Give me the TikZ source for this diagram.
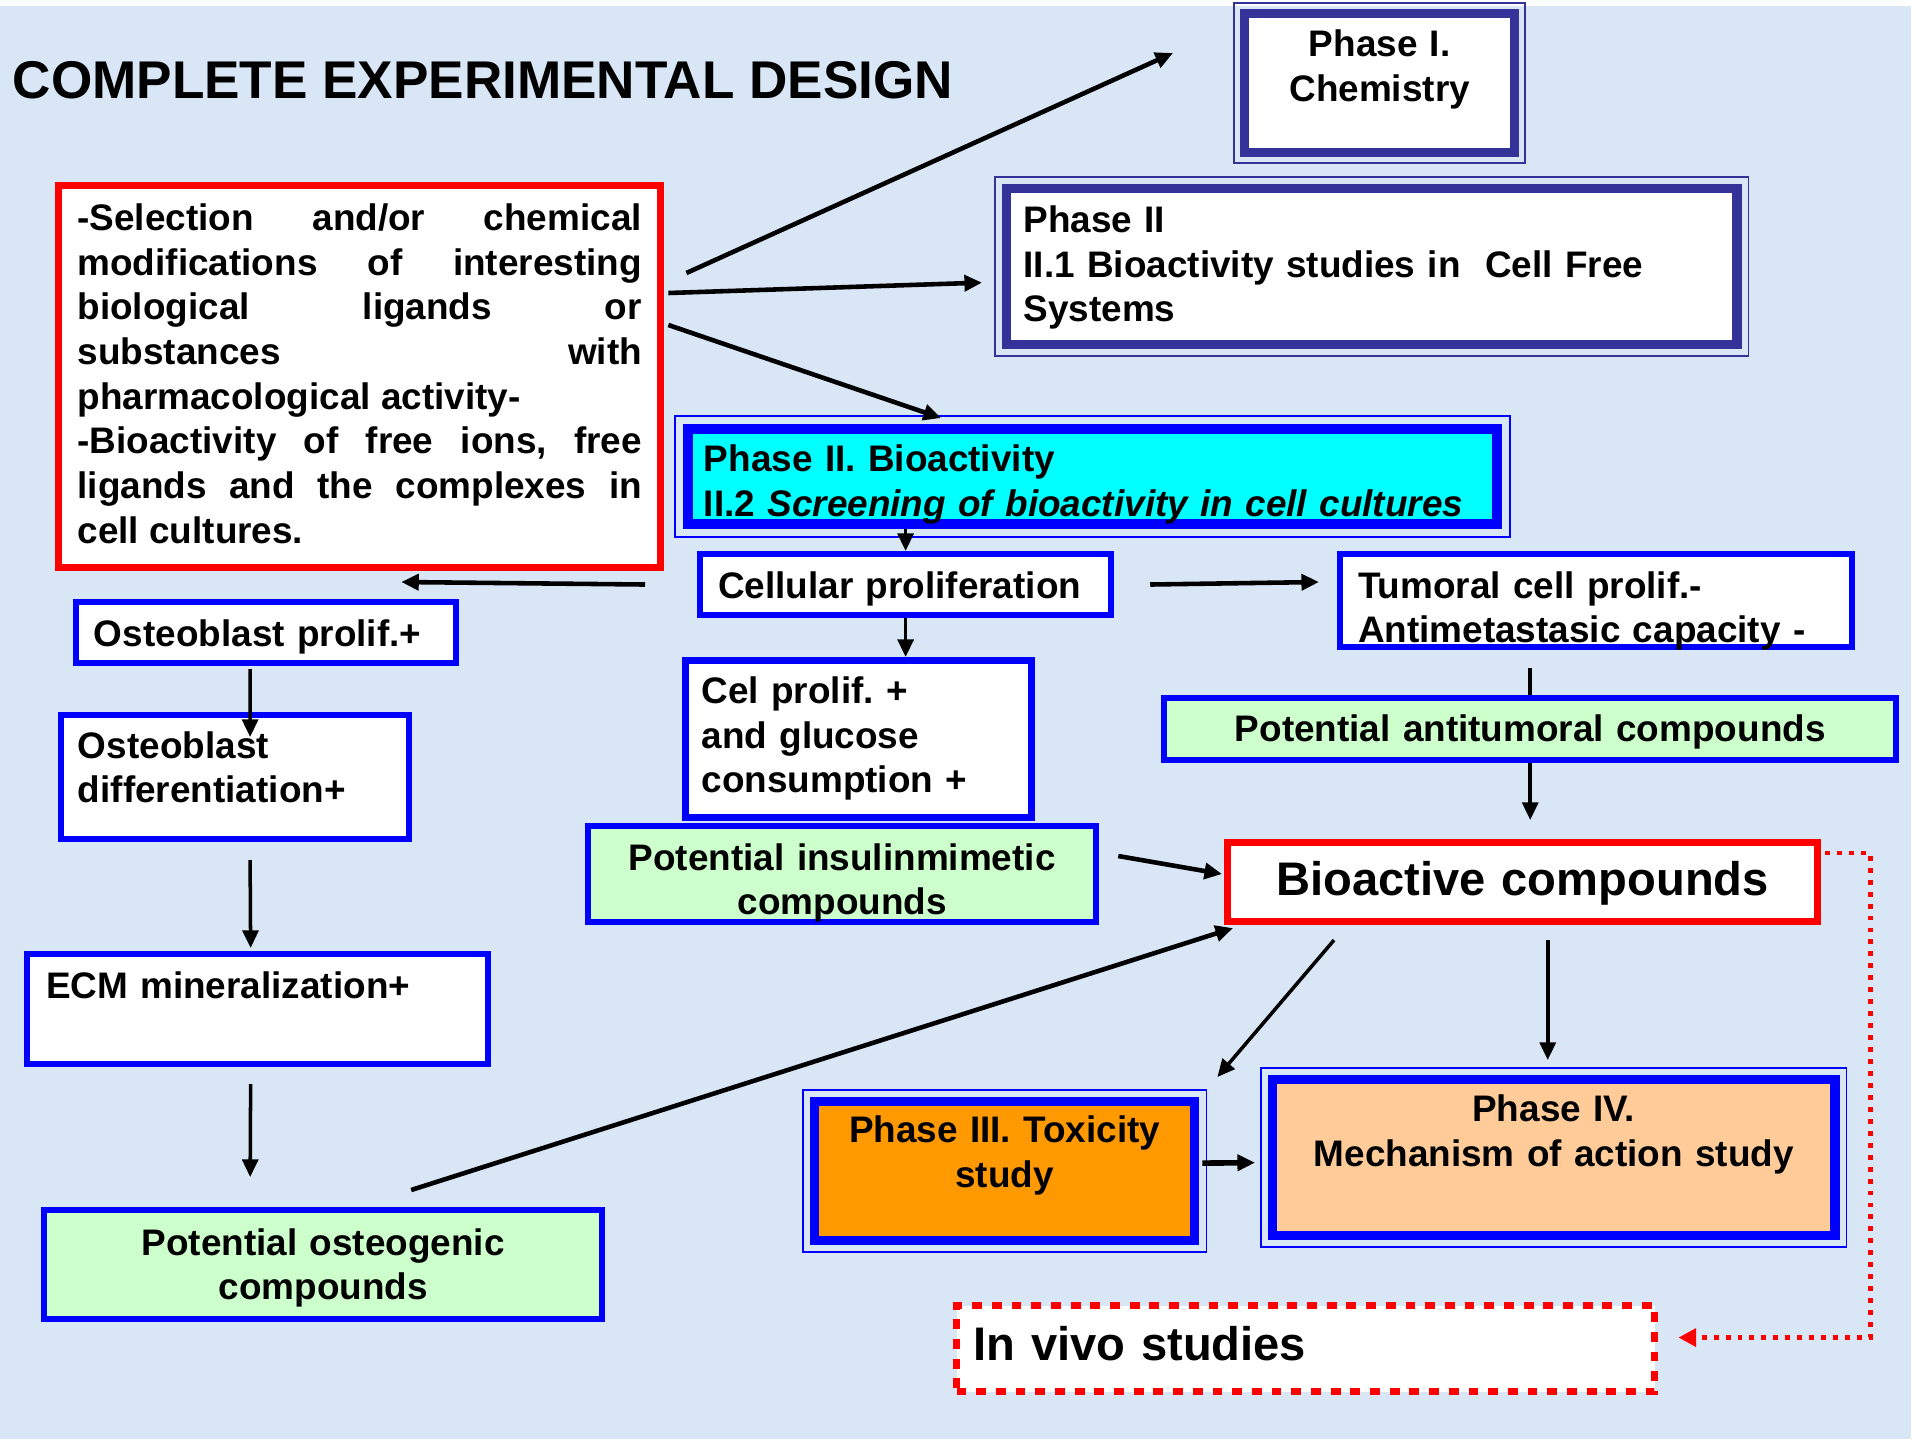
\documentclass[tikz,border=0pt]{standalone}
\usepackage{fontspec}
\setmainfont{Liberation Sans}
\usetikzlibrary{arrows.meta,calc}
\definecolor{bgblue}{RGB}{216,230,246}
\definecolor{boxblue}{RGB}{0,0,255}
\definecolor{navyline}{RGB}{51,51,153}
\definecolor{lightgreen}{RGB}{204,255,204}
\definecolor{cyanfill}{RGB}{0,255,255}
\definecolor{orangefill}{RGB}{255,153,0}
\definecolor{peach}{RGB}{255,204,153}
\frenchspacing
\begin{document}
\begin{tikzpicture}[x=0.01cm,y=-0.01cm,
    every node/.style={font=\fontsize{10.5}{12.7}\selectfont\bfseries},
    bigtext/.style={font=\fontsize{13.4}{16}\selectfont\bfseries, text height=0.35cm},
    plainbox/.style={draw=boxblue, fill=white, line width=1.7pt, anchor=north west, align=left, text height=0.28cm},
    greenbox/.style={plainbox, fill=lightgreen, align=center},
    phasebox/.style={plainbox, line width=2.6pt},
    ring/.style={line width=0.5pt},
    arr/.style={-{Triangle[length=5pt,width=4.5pt]}, line width=1pt},
    dotarr/.style={red, line width=1.4pt, dash pattern=on 1.4pt off 2pt, -{Triangle[length=5pt,width=5pt]}}]
      \useasboundingbox (0,0) rectangle (1916,1439);
      \fill[bgblue] (0,6) rectangle (1911,1439);

      \node[anchor=base west, inner sep=0pt, font=\fontsize{15.1}{18}\selectfont\bfseries] (title) at (12,98) {COMPLETE EXPERIMENTAL DESIGN};

      \node[plainbox, draw=red, line width=2pt, align=justify, inner xsep=0.19cm, inner ysep=0.17cm, text width=5.64cm, text depth=3.20cm] (sel) at (55,182)
        {\tolerance=10000\hyphenpenalty=10000 -Selection and/or chemical\linebreak modifications of interesting\linebreak biological ligands or\linebreak substances with\linebreak pharmacological activity-\\ -Bioactivity of free ions, free\linebreak ligands and the complexes in\linebreak cell cultures.};

      \node[phasebox, draw=navyline, align=center, inner xsep=0.10cm, inner ysep=0.15cm, text width=2.50cm, text depth=0.81cm] (p1) at (1240,9) {Phase I.\\Chemistry};
      \node[phasebox, draw=navyline, inner xsep=0.17cm, inner ysep=0.16cm, text width=6.96cm, text depth=0.96cm] (p2) at (1002,184) {Phase II\\II.1 Bioactivity studies in\ \ Cell Free\\Systems};
      \node[phasebox, fill=cyanfill, line width=2.8pt, inner xsep=0.16cm, inner ysep=0.15cm, text width=7.77cm, text depth=0.37cm] (p22) at (683,424) {Phase II. Bioactivity\\\mbox{II.2 \textit{Screening of bioactivity in cell cultures}}};

      \node[plainbox, inner xsep=0.18cm, inner ysep=0.16cm, text width=3.75cm, text depth=0.01cm] (cell) at (697,551) {Cellular proliferation};
      \node[plainbox, inner xsep=0.18cm, inner ysep=0.16cm, text width=4.76cm, text depth=0.33cm] (tum) at (1337,551) {Tumoral cell prolif.-\\Antimetastasic capacity -};
      \node[greenbox, inner xsep=0.10cm, inner ysep=0.15cm, text width=7.12cm, text depth=0.04cm] (anti) at (1161,695) {Potential antitumoral compounds};
      \node[plainbox, line width=2pt, inner xsep=0.16cm, inner ysep=0.15cm, text width=3.14cm, text depth=0.99cm] (celp) at (682,657) {Cel prolif. +\\and glucose\\consumption +};
      \node[greenbox, inner xsep=0.10cm, inner ysep=0.16cm, text width=4.88cm, text depth=0.36cm] (ins) at (585,823) {Potential insulinmimetic\\compounds};
      \node[plainbox, draw=red, line width=2pt, align=center, bigtext, inner xsep=0.10cm, inner ysep=0.18cm, text width=5.70cm, text depth=0.08cm] (bio) at (1224,839) {Bioactive compounds};

      \node[plainbox, inner xsep=0.18cm, inner ysep=0.16cm, text width=3.44cm, text depth=0.01cm] (ostp) at (73,599) {Osteoblast prolif.+};
      \node[plainbox, inner xsep=0.17cm, inner ysep=0.15cm, text width=3.14cm, text depth=0.66cm] (ostd) at (58,712) {Osteoblast\\differentiation+};
      \node[plainbox, inner xsep=0.19cm, inner ysep=0.16cm, text width=4.23cm, text depth=0.50cm] (ecm) at (24,951) {ECM mineralization+};
      \node[greenbox, inner xsep=0.10cm, inner ysep=0.17cm, text width=5.38cm, text depth=0.47cm] (osto) at (41,1207) {Potential osteogenic\\compounds};

      \node[phasebox, fill=orangefill, align=center, inner xsep=0.10cm, inner ysep=0.13cm, text width=3.60cm, text depth=0.85cm] (p3) at (810,1097) {Phase III. Toxicity\\study};
      \node[phasebox, fill=peach, align=center, inner xsep=0.10cm, inner ysep=0.14cm, text width=5.42cm, text depth=1.00cm] (p4) at (1268,1075) {Phase IV.\\Mechanism of action study};
      \node[plainbox, draw=red, line width=2pt, dash pattern=on 2.8pt off 2.8pt, bigtext, inner xsep=0.17cm, inner ysep=0.20cm, text width=6.64cm, text depth=0.11cm] (viv) at (953,1302) {In vivo studies};

      \foreach \n/\c/\d in {p1/navyline/6, p2/navyline/7, p22/boxblue/8, p3/boxblue/7, p4/boxblue/7}
        \draw[ring, draw=\c] ([shift={(-\d,-\d)}]\n.north west) rectangle ([shift={(\d,\d)}]\n.south east);

      \draw[arr, line width=1.3pt] ([shift={(22,91)}]sel.north east) -- ([shift={(-67,44)}]p1.north west);
      \draw[arr, line width=1.3pt] ([shift={(4,111)}]sel.north east) -- ([shift={(-20,16)}]p2.west);
      \draw[arr, line width=1.3pt] ([shift={(4,143)}]sel.north east) -- ([shift={(258,-6)}]p22.north west);

      \draw[arr] (cell.north |- p22.south) -- (cell.north);
      \draw[arr] (cell.south) -- (cell.south |- celp.north);
      \draw[arr, line width=1.3pt] ([shift={(-52,0)}]cell.west) -- ([shift={(-58,-17)}]ostp.north east);
      \draw[arr, line width=1.3pt] ([shift={(36,0)}]cell.east) -- ([shift={(-18,31)}]tum.north west);

      \draw[line width=1pt] ($(anti.north |- tum.south)+(0,18)$) -- (anti.north);
      \draw[arr] (anti.south) -- ($(anti.south |- bio.north)+(0,-19)$);
      \draw[arr, line width=1.3pt] ([shift={(19,-18)}]ins.east) -- ([shift={(-2,-8)}]bio.west);
      \draw[arr, line width=1.3pt] ([shift={(88,-17)}]osto.north) -- ([shift={(9,3)}]bio.south west);
      \draw[arr] ([shift={(110,15)}]bio.south west) -- ([shift={(18,-20)}]p3.north east);
      \draw[arr] ($(p4.north |- bio.south)+(-6,15)$) -- ($(p4.north)+(-6,-15)$);
      \draw[arr, line width=1.6pt] ([shift={(3,-8)}]p3.east) -- ([shift={(-13,5)}]p4.west);
      \draw[dotarr] ([shift={(4,14)}]bio.north east) -| ($(viv.east)+(212,-11)$) -- ($(viv.east)+(20,-11)$);

      \draw[arr] ($(ostp.south)+(-16,3)$) -- ($(ostd.north)+(15,25)$);
      \draw[arr] ($(ostd.south)+(15,18)$) -- ($(ecm.north)+(-7,-3)$);
      \draw[arr] ($(ecm.south)+(-7,17)$) -- ($(osto.north)+(-73,-30)$);
    \end{tikzpicture}
\end{document}
